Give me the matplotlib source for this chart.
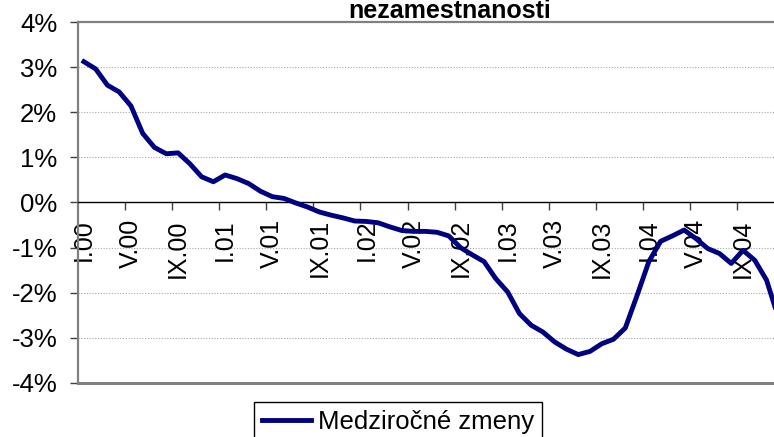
import numpy as np
import matplotlib
matplotlib.use("Agg")
import matplotlib.pyplot as plt
from matplotlib.ticker import FixedLocator, NullFormatter, FixedFormatter

plt.rcParams['font.family'] = ['Liberation Sans', 'DejaVu Sans']

# medzirocne zmeny miery nezamestnanosti, I.2000 - XII.2004 (percentne body)
values = [3.12, 2.96, 2.60, 2.45, 2.14, 1.53, 1.22, 1.08, 1.10, 0.86,
          0.57, 0.46, 0.61, 0.53, 0.42, 0.25, 0.13, 0.09, -0.01, -0.10,
          -0.21, -0.28, -0.34, -0.41, -0.42, -0.45, -0.54, -0.62, -0.64, -0.64,
          -0.66, -0.74, -1.00, -1.16, -1.31, -1.69, -1.98, -2.46, -2.72, -2.87,
          -3.09, -3.25, -3.37, -3.30, -3.13, -3.03, -2.78, -2.06, -1.31, -0.86,
          -0.74, -0.61, -0.80, -1.02, -1.13, -1.35, -1.06, -1.28, -1.72, -2.55]
month_labels = ["I.00", "V.00", "IX.00", "I.01", "V.01", "IX.01", "I.02", "V.02",
                "IX.02", "I.03", "V.03", "IX.03", "I.04", "V.04", "IX.04"]
label_step = 4
yticks = [4, 3, 2, 1, 0, -1, -2, -3, -4]
series_name = "Medziročné zmeny"
title_visible = "nezamestnanosti"

W, H = 774, 437
fig = plt.figure(figsize=(W / 100, H / 100), dpi=100)
left, top, bottom = 78, 22, 383
n = len(values)
cat_w = 11.77
right = left + n * cat_w
ax = fig.add_axes([left / W, 1 - bottom / H, (right - left) / W, (bottom - top) / H])

x = np.arange(n)
ax.plot(x, values, color='#000080', lw=3.5, solid_joinstyle='round',
        label=series_name, zorder=3)

ax.set_xlim(-0.5, n - 0.5)
ax.set_ylim(-4, 4)

# y axis
ax.set_yticks(yticks)
ax.set_yticklabels([f"{v}%" for v in yticks], fontsize=18.5)
ax.tick_params(axis='y', direction='out', length=6, width=1, color='#404040', pad=9)
for g in [3, 2, 1, -1, -2, -3]:
    ax.axhline(g, color='#a8a8a8', lw=0.8, ls=(0, (1, 1.5)), zorder=1)

# category axis at zero
ax.spines['bottom'].set_position(('data', 0))
ax.spines['bottom'].set_color('black')
ax.spines['bottom'].set_linewidth(1)
ax.spines['left'].set_color('#808080')
ax.spines['left'].set_linewidth(1.6)
ax.spines['top'].set_color('#808080')
ax.spines['top'].set_linewidth(1.6)
ax.spines['right'].set_visible(False)
ax.axhline(-4, color='#808080', lw=2.2, clip_on=False, zorder=2)

ax.xaxis.set_major_locator(FixedLocator(np.arange(label_step - 0.5, n, label_step)))
ax.xaxis.set_major_formatter(NullFormatter())
ax.xaxis.set_minor_locator(FixedLocator(np.arange(0, n, label_step)))
ax.xaxis.set_minor_formatter(FixedFormatter(month_labels))
ax.tick_params(axis='x', which='major', direction='out', length=6, width=1, color='#404040')
ax.tick_params(axis='x', which='minor', length=0, pad=12, labelsize=18, labelrotation=90)

fig.text(450 / W, 1 - 18 / H, title_visible, ha='center', va='baseline',
         fontsize=18, fontweight='bold')

leg = fig.legend(loc='upper left', bbox_to_anchor=(254 / W, 1 - 402 / H),
                 fontsize=18.5, frameon=True, fancybox=False, framealpha=1,
                 edgecolor='black', handlelength=1.9, handletextpad=0.3,
                 borderpad=0.3, borderaxespad=0)
leg.get_frame().set_linewidth(1)

fig.savefig("out.png", dpi=100)
